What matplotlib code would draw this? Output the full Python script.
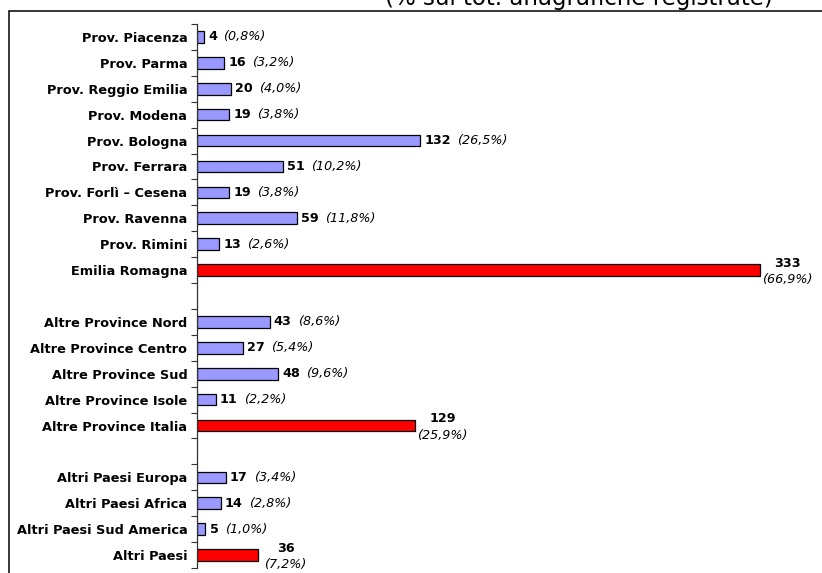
import numpy as np
import matplotlib
matplotlib.use("Agg")
import matplotlib.pyplot as plt
from matplotlib.patches import Rectangle

categorie = ["Prov. Piacenza", "Prov. Parma", "Prov. Reggio Emilia", "Prov. Modena",
             "Prov. Bologna", "Prov. Ferrara", "Prov. Forlì – Cesena", "Prov. Ravenna",
             "Prov. Rimini", "Emilia Romagna", "",
             "Altre Province Nord", "Altre Province Centro", "Altre Province Sud",
             "Altre Province Isole", "Altre Province Italia", "",
             "Altri Paesi Europa", "Altri Paesi Africa", "Altri Paesi Sud America",
             "Altri Paesi"]
valori = [4, 16, 20, 19, 132, 51, 19, 59, 13, 333, np.nan,
          43, 27, 48, 11, 129, np.nan,
          17, 14, 5, 36]
percentuali = ["0,8%", "3,2%", "4,0%", "3,8%", "26,5%", "10,2%", "3,8%", "11,8%",
               "2,6%", "66,9%", "",
               "8,6%", "5,4%", "9,6%", "2,2%", "25,9%", "",
               "3,4%", "2,8%", "1,0%", "7,2%"]
totali = ["Emilia Romagna", "Altre Province Italia", "Altri Paesi"]

fig = plt.figure(figsize=(8.22, 5.73), dpi=100)
ax = fig.add_axes([197 / 822, 5 / 573, 1 - 197 / 822, (568 - 24) / 573])

y = np.arange(len(categorie))
colori = ["#FF0000" if c in totali else "#9999FF" for c in categorie]
ax.barh(y, valori, height=0.45, color=colori, edgecolor="black", linewidth=0.9)

ax.set_ylim(len(categorie) - 0.5, -0.5)
ax.set_xlim(0, 370)
ax.set_yticks(y)
ax.set_yticklabels(categorie, fontsize=9.3, fontweight="bold")
ax.set_yticks(np.arange(-0.5, len(categorie)), minor=True)
ax.tick_params(axis="y", which="major", length=0, pad=7)
ax.tick_params(axis="y", which="minor", length=4, direction="out", width=0.8, color="#333333")
ax.set_xticks([])
for s in ["top", "right", "bottom"]:
    ax.spines[s].set_visible(False)
ax.spines["left"].set_color("#333333")
ax.spines["left"].set_linewidth(0.9)

for yi, (cat, v, p) in enumerate(zip(categorie, valori, percentuali)):
    if np.isnan(v):
        continue
    if cat in totali:
        ax.annotate(str(v), xy=(v, yi), xytext=(20, 5), textcoords="offset points",
                    ha="center", va="center", fontsize=9.2, fontweight="bold")
        ax.annotate("(" + p + ")", xy=(v, yi), xytext=(20, -7), textcoords="offset points",
                    ha="center", va="center", fontsize=9.2, style="italic")
    else:
        t = ax.annotate(str(v), xy=(v, yi), xytext=(3, 0), textcoords="offset points",
                        ha="left", va="center", fontsize=9.2, fontweight="bold")
        ax.annotate("(" + p + ")", xy=(1, 0.5), xycoords=t, xytext=(4.5, 0),
                    textcoords="offset points", ha="left", va="center",
                    fontsize=9.2, style="italic")

# cornice del grafico (tagliata dall'immagine)
fig.patches.append(Rectangle((8.5 / 822, -0.1), 1.2, 1 - 11 / 573 + 0.1,
                             transform=fig.transFigure, fill=False,
                             edgecolor="black", linewidth=1.1))
fig.text(579 / 822, 1 - 5 / 573, "(% sul tot. anagrafiche registrate)",
         ha="center", va="baseline", fontsize=16.5)

fig.savefig("out.png", dpi=100)
